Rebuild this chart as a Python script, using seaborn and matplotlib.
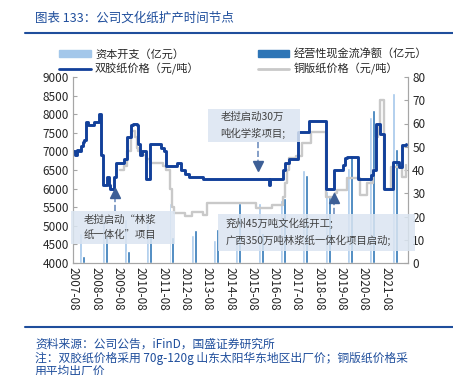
import seaborn as sns
import matplotlib.pyplot as plt
from matplotlib.patches import Patch, Rectangle
from matplotlib.lines import Line2D

sns.set_style('white')
plt.rcParams['font.family'] = ['Noto Sans CJK SC', 'DejaVu Sans']

# annual bars (right axis, 亿元)
years = list(range(2007, 2022))
capex = [13, 18, 19, 21, 26, 12, 10, 12, 26, 27, 40, 31, 41, 63, 73]
ocf = [3, 12, 5, 12, 11, 14, 14.5, 26, 13, 28, 38, 28.5, 46.5, 66, 49]

# 双胶纸价格 (元/吨)
dsp_dates = ['2007-08', '2007-09', '2007-10', '2007-11', '2007-12', '2008-01', '2008-02',
             '2008-03', '2008-04', '2008-07', '2008-10', '2008-11', '2008-12', '2009-02',
             '2009-03', '2009-04', '2009-06', '2009-07', '2009-11', '2010-01', '2010-03',
             '2010-04', '2010-06', '2010-07', '2010-08', '2010-09', '2010-11', '2011-01',
             '2011-07', '2011-09', '2011-10', '2012-04', '2012-06', '2012-08', '2012-10',
             '2013-06', '2016-05', '2016-06', '2017-01', '2017-02', '2017-04', '2017-09',
             '2018-03', '2018-12', '2019-04', '2019-09', '2019-10', '2019-11', '2020-05',
             '2020-12', '2021-01', '2021-03', '2021-05', '2021-07', '2021-12', '2022-03',
             '2022-05', '2022-07']
dsp_price = [7000, 6900, 7050, 7000, 7150, 7250, 7300,
             7800, 7700, 7800, 8000, 6900, 6100, 6300,
             6100, 6000, 6300, 6700, 6800, 7400, 7700,
             7750, 7700, 7200, 6900, 7000, 6250, 7200,
             7100, 7000, 6600, 6700, 6500, 6400, 6300,
             6250, 6100, 6250, 6500, 6680, 6800, 7530,
             7825, 6000, 6500, 6630, 6810, 6860, 6250,
             6365, 6500, 7750, 7480, 6000, 6720, 6590,
             7170, 7200]

# 铜版纸价格 (元/吨)
cp_dates = ['2009-09', '2009-11', '2010-01', '2010-03', '2010-05', '2010-06', '2010-07',
            '2010-09', '2010-11', '2011-01', '2011-08', '2011-10', '2011-12', '2012-01',
            '2012-02', '2012-08', '2012-12', '2013-06', '2013-08', '2015-10', '2016-07',
            '2017-01', '2017-02', '2017-03', '2017-04', '2017-08', '2017-11', '2018-04',
            '2018-12', '2019-03', '2019-05', '2019-06', '2019-11', '2020-06', '2020-10',
            '2021-01', '2021-03', '2021-04', '2021-05', '2021-07', '2021-11', '2022-05',
            '2022-07']
cp_price = [6500, 6600, 7000, 7550, 7400, 7100, 7000,
            6900, 6800, 6700, 6600, 6500, 6000, 5500,
            5350, 5260, 5380, 5300, 5600, 5470, 5560,
            5780, 6140, 6500, 6810, 6880, 7220, 7530,
            5780, 5690, 5870, 5960, 6280, 5830, 6140,
            6500, 7400, 7660, 8380, 6000, 6590, 6320,
            6630]

tick_labels = [f"{y}-08" for y in range(2007, 2022)]


def mi(s):
    y, m = map(int, s.split('-'))
    return (y - 2007) * 12 + m - 8


BLUE = '#12409a'
GRAY = '#c9c9c9'
LIGHT = '#a3c7ea'
DARK = '#2e75b6'
HEAD = '#1f4e9c'
BOX = '#dbe5f1'
ARROW = '#3d5f96'

fig = plt.figure(figsize=(4.53, 3.75), dpi=100)
ax = fig.add_axes([73.3 / 453, 112 / 375, 334.7 / 453, 186 / 375])
ax2 = ax.twinx()

bx_c = [(y - 2007) * 12 + 4.0 for y in years]
bx_o = [(y - 2007) * 12 + 5.6 for y in years]
sns.barplot(x=bx_c, y=capex, native_scale=True, width=1.6 / 12, color=LIGHT,
            saturation=1, errorbar=None, ax=ax2)
sns.barplot(x=bx_o, y=ocf, native_scale=True, width=1.6 / 12, color=DARK,
            saturation=1, errorbar=None, ax=ax2)

sns.lineplot(x=[mi(d) for d in cp_dates], y=cp_price, drawstyle='steps-post',
             color=GRAY, lw=1.7, ax=ax)
sns.lineplot(x=[mi(d) for d in dsp_dates], y=dsp_price, drawstyle='steps-post',
             color=BLUE, lw=2.1, ax=ax)
ax.set_zorder(ax2.get_zorder() + 1)
ax.patch.set_visible(False)

ax.set_xlim(0, 180)
ax.set_ylim(4000, 9000)
ax.set_yticks(range(4000, 9001, 500))
ax2.set_ylim(0, 80)
ax2.set_yticks(range(0, 81, 10))
ax.set_xticks(range(0, 169, 12))
ax.set_xticklabels(tick_labels, rotation=-90)
ax2.set_xlim(0, 180)
for a in (ax, ax2):
    a.set_xlabel('')
    a.set_ylabel('')
    a.tick_params(direction='in', length=3, labelsize=8.5, colors='#a6a6a6',
                  labelcolor='#262626', pad=3)
    for s in a.spines.values():
        s.set_color('#a6a6a6')
        s.set_linewidth(0.8)
    a.spines['top'].set_visible(False)


# annotation boxes (data coordinates)
def box(x0, x1, y0, y1, lines, tx, ty):
    ax.add_patch(Rectangle((x0, y0), x1 - x0, y1 - y0, facecolor=BOX, alpha=0.85,
                           edgecolor='none', zorder=5, clip_on=False))
    ax.text(tx, ty, lines, fontsize=7.5, color='#404040', va='center', ha='left',
            linespacing=1.6, zorder=6)


box(-1.2, 54.7, 4511, 5398, '老挝启动“林浆\n纸一体化”项目', 5.5, 4950)
box(72.6, 121.9, 7253, 8140, '老挝启动30万\n吨化学浆项目;', 79, 7700)
box(77.9, 183.8, 4323, 5317, '兖州45万吨文化纸开工;\n广西350万吨林浆纸一体化项目启动;', 82, 4830)

ax.plot([22.5, 22.5], [5398, 5750], ls='--', color='#6f8fbf', lw=1.2, zorder=4)
ax.plot([22.5], [5870], marker='^', ms=7, color=ARROW, zorder=4)
ax.plot([99.4, 99.4], [7253, 6750], ls='--', color='#6f8fbf', lw=1.2, zorder=4)
ax.plot([99.4], [6620], marker='v', ms=7, color=ARROW, zorder=4)
ax.plot([140.2, 140.2], [5317, 5640], ls='--', color='#6f8fbf', lw=1.2, zorder=4)
ax.plot([140.2], [5760], marker='^', ms=7, color=ARROW, zorder=4)

handles = [Patch(color=LIGHT, label='资本开支（亿元）'),
           Line2D([], [], color=BLUE, lw=2, label='双胶纸价格（元/吨）'),
           Patch(color=DARK, label='经营性现金流净额（亿元）'),
           Line2D([], [], color=GRAY, lw=2, label='铜版纸价格（元/吨）')]
fig.legend(handles=handles, ncol=2, loc='upper left', bbox_to_anchor=(55 / 453, 1 - 44 / 375),
           frameon=False, fontsize=8, handlelength=2.8, handleheight=0.55,
           columnspacing=5.3, labelspacing=0.35, handletextpad=0.4, borderaxespad=0)

fig.text(35 / 453, 1 - 18 / 375, '图表 133：公司文化纸扩产时间节点', fontsize=9,
         color=HEAD, style='italic', va='center')
fig.add_artist(Line2D([25 / 453, 1], [1 - 33 / 375] * 2, color=HEAD, lw=1.5))
fig.add_artist(Line2D([25 / 453, 1], [1 - 327 / 375] * 2, color=HEAD, lw=1.5))
fig.text(35 / 453, 1 - 344 / 375, '资料来源：公司公告，iFinD，国盛证券研究所', fontsize=8.5,
         color=HEAD, style='italic', va='center')
fig.text(35 / 453, 1 - 358 / 375,
         '注：双胶纸价格采用 70g-120g 山东太阳华东地区出厂价；铜版纸价格采',
         fontsize=8.5, color=HEAD, style='italic', va='center')
fig.text(35 / 453, 1 - 371 / 375, '用平均出厂价', fontsize=8.5,
         color=HEAD, style='italic', va='center')

fig.savefig('out.png', dpi=100)
